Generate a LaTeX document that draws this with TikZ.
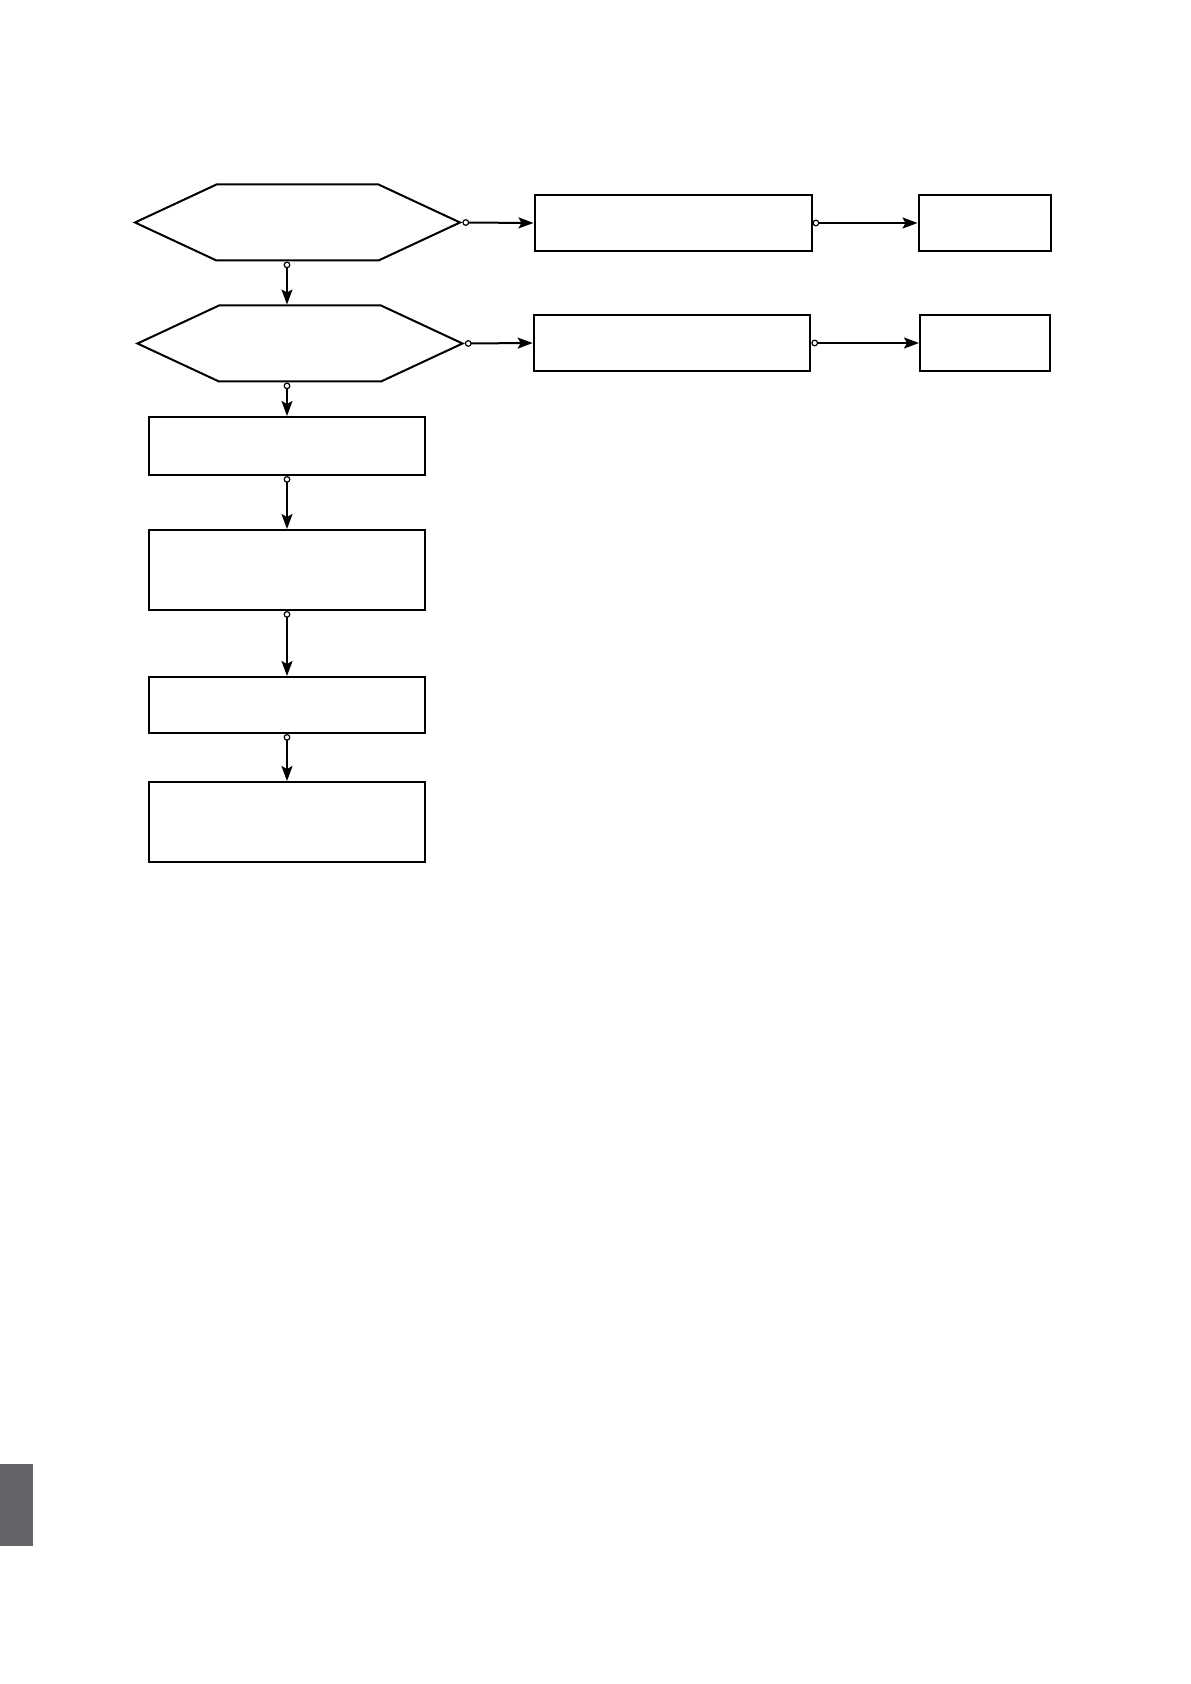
\documentclass[tikz,border=0pt]{standalone}
\usetikzlibrary{arrows.meta,positioning,shapes.symbols}
\definecolor{tabgray}{RGB}{100,101,104}

\begin{document}
\begin{tikzpicture}[
        x=0.5pt, y=-0.5pt,
        line width=1pt,
        every node/.style={font=\small},
        block/.style={draw, minimum height=28pt, inner sep=0pt},
        decision/.style={draw, signal, signal to=west and east, signal pointer angle=50,
                         minimum width=162.5pt, minimum height=38pt, inner sep=0pt},
        arr/.style={{Circle[open,length=3.4pt,width=3.4pt,line width=0.6pt]}-{Stealth[length=7.5pt,width=5.5pt,inset=1.5pt]}}
    ]
        \useasboundingbox (0,0) rectangle (1190,1684);

        % left column
        \node[decision] (test1) at (297.5,222.5) {};
        \node[decision] (test2) at (300,343.5) {};
        \node[block, minimum width=138pt, minimum height=29pt] (step1) at (287,446) {};
        \node[block, minimum width=138pt, minimum height=40pt] (step2) at (287,570) {};
        \node[block, minimum width=138pt] (step3) at (287,705) {};
        \node[block, minimum width=138pt, minimum height=40pt] (step4) at (287,822) {};

        % right branches
        \node[block, minimum width=138.5pt] (fixa) at (673,223) {};
        \node[block, minimum width=66pt] (enda) at (984.5,223) {};
        \node[block, minimum width=138.3pt, minimum height=27.7pt] (fixb) at (672,343) {};
        \node[block, minimum width=65.2pt, minimum height=27.7pt] (endb) at (985.2,343) {};

        \draw[arr] (test1.south -| step1.north) -- (test2.north -| step1.north);
        \draw[arr] (test2.south -| step1.north) -- (step1.north);
        \draw[arr] (step1) -- (step2);
        \draw[arr] (step2) -- (step3);
        \draw[arr] (step3) -- (step4);

        \draw[arr] (test1.east) -- (fixa.west);
        \draw[arr] (fixa) -- (enda);
        \draw[arr] (test2.east) -- (fixb.west);
        \draw[arr] (fixb) -- (endb);

        % page tab
        \fill[tabgray] (0,1464) rectangle (33,1546);
    \end{tikzpicture}
\end{document}
